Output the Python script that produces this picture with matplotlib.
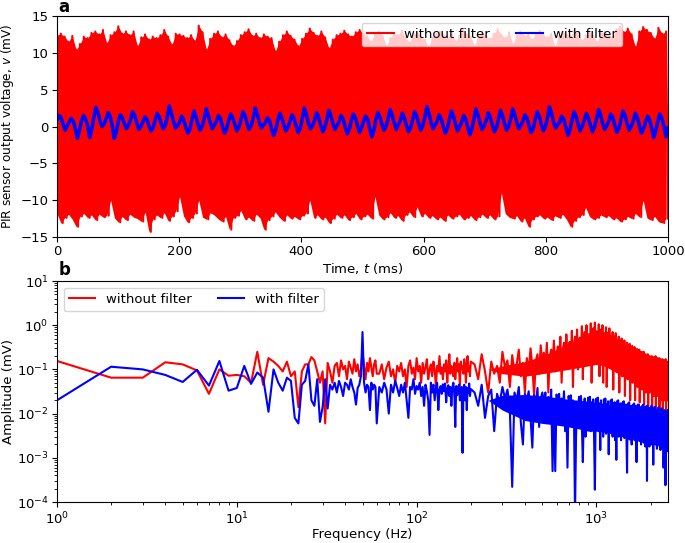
import numpy as np
import matplotlib
matplotlib.use("Agg")
import matplotlib.pyplot as plt

plt.rcParams['path.simplify'] = False
plt.rcParams['font.size'] = 9.5
plt.rcParams['xtick.major.pad'] = 2.5
plt.rcParams['ytick.major.pad'] = 2.5

# ---------------------------------------------------------------
# (a) time signal, 0 - 1000 ms
# red trace: peak values of the fast oscillation (upper / lower edge)
# ---------------------------------------------------------------
red_top = [
    12.4, 12.6, 12.2, 11.5, 12.3, 10.4, 11.2, 12.2, 12.0, 12.7, 12.9, 12.5, 13.1, 11.3, 12.4, 12.8,
    13.6, 12.6, 12.9, 12.4, 12.9, 10.9, 12.1, 12.5, 11.8, 12.2, 12.0, 12.4, 13.1, 12.2, 11.1, 12.6,
    12.5, 12.3, 12.0, 12.4, 11.6, 13.7, 12.8, 10.4, 11.9, 12.6, 12.9, 12.1, 12.5, 11.7, 10.9, 11.6,
    12.4, 12.8, 13.2, 12.3, 12.6, 12.0, 12.5, 12.2, 12.0, 10.2, 11.5, 12.4, 12.9, 12.3, 11.8, 10.9,
    11.9, 12.6, 13.3, 12.7, 12.3, 12.9, 12.1, 10.6, 11.8, 12.4, 12.6, 13.0, 12.5, 12.2, 12.8, 13.1,
    12.6, 12.2, 11.5, 12.7, 12.9, 12.3, 10.9, 12.0, 12.6, 12.4, 13.0, 12.1, 11.4, 12.5, 12.8, 12.2,
    11.8, 10.8, 12.1, 12.6, 12.9, 12.4, 12.0, 12.7, 11.6, 12.3, 13.1, 12.5, 12.2, 10.9, 12.4, 12.8,
    12.3, 11.9, 12.6, 13.2, 12.5, 12.0, 12.8, 11.2, 12.4, 12.9, 12.3, 12.6, 11.8, 12.7, 13.0, 12.4,
    12.1, 12.6, 10.8, 12.3, 12.9, 12.5, 12.2, 13.0, 12.6, 11.7, 12.4, 12.8, 12.3, 11.5, 12.7, 12.9,
    12.4, 12.0, 13.2, 13.6, 12.8, 13.3, 12.5, 10.8, 12.9, 13.5, 13.1, 12.7, 11.9, 13.4, 12.6, 12.9,
]
red_bottom = [
    -11.8, -13.1, -12.4, -11.9, -12.6, -13.6, -12.2, -11.8, -12.4, -12.0, -12.7, -11.9, -12.3, -12.1, -10.0, -12.4,
    -13.0, -12.2, -12.7, -11.9, -12.3, -12.5, -12.9, -11.6, -14.3, -12.6, -12.0, -12.4, -11.7, -12.8, -12.2, -11.5,
    -9.5, -12.1, -13.0, -12.4, -11.8, -10.0, -12.3, -12.6, -11.7, -12.0, -12.5, -12.9, -12.2, -14.0, -12.4, -12.1,
    -11.4, -12.6, -12.3, -12.8, -11.9, -12.4, -14.0, -12.7, -12.2, -11.6, -12.3, -12.8, -12.0, -12.5, -12.2, -12.6,
    -12.1, -11.8, -10.0, -12.4, -12.0, -12.6, -12.3, -13.1, -12.5, -11.9, -12.4, -12.0, -12.7, -12.3, -11.8, -12.6,
    -12.2, -11.9, -12.5, -9.5, -12.0, -12.6, -12.3, -11.7, -12.4, -12.1, -12.8, -12.0, -11.6, -12.3, -10.9, -12.2,
    -11.8, -12.4, -12.1, -12.6, -12.3, -12.8, -12.0, -12.5, -12.2, -11.9, -12.6, -12.4, -12.1, -12.7, -12.3, -11.9,
    -12.4, -12.0, -12.6, -12.2, -9.0, -11.8, -12.3, -12.5, -12.1, -12.9, -12.4, -13.6, -12.6, -12.2, -12.0, -12.5,
    -12.3, -12.7, -12.1, -12.4, -11.9, -12.6, -13.6, -12.8, -12.3, -12.0, -11.0, -12.2, -12.6, -12.4, -12.0, -12.3,
    -12.1, -12.6, -12.4, -12.9, -12.6, -12.2, -12.5, -11.8, -12.3, -10.0, -12.4, -12.7, -12.2, -12.9, -13.1, -12.5,
]

# blue trace: filtered signal, 6 samples per 20 ms (50 Hz ripple)
blue_v = [
    0.9, 1.5, 1.2, 0.3, -0.5, 0.1,   0.6, 1.1, 0.7, -0.3, -1.6, -0.5,
    0.8, 1.5, 1.0, 0.1, -1.5, -0.4,  1.2, 2.6, 1.9, 0.8, 0.0, 0.3,
    1.0, 1.9, 1.4, 0.2, -1.6, -0.8,  0.7, 1.6, 1.2, 0.4, -0.3, 0.2,
    0.9, 2.0, 1.5, 0.5, -0.4, 0.0,   0.6, 1.3, 1.0, 0.1, -0.6, -0.2,
    0.8, 1.8, 1.3, 0.4, -0.3, 0.2,   1.3, 2.8, 1.8, 0.7, -0.2, 0.1,
    0.6, 1.4, 0.9, -0.1, -0.9, -0.4, 0.9, 2.1, 1.4, 0.3, -0.5, 0.0,
    1.0, 2.4, 1.6, 0.5, -0.3, 0.2,   0.7, 1.5, 1.1, 0.0, -0.9, -0.3,
    0.8, 1.7, 1.2, 0.3, -0.6, -0.1,  0.9, 2.0, 1.5, 0.4, -0.4, 0.1,
    1.1, 2.5, 1.7, 0.6, -0.2, 0.2,   0.5, 1.2, 0.8, -0.3, -1.2, -0.5,
    0.8, 1.8, 1.2, 0.2, -0.6, -0.1,  0.7, 1.6, 1.1, 0.1, -0.8, -0.3,
    1.0, 2.5, 1.7, 0.5, -0.3, 0.1,   0.8, 1.9, 1.3, 0.2, -0.7, -0.2,
    0.9, 2.2, 1.5, 0.4, -0.4, 0.1,   0.6, 1.5, 1.0, 0.0, -1.0, -0.4,
    0.8, 1.7, 1.2, 0.2, -0.8, -0.2,  0.7, 1.4, 1.0, -0.2, -1.4, -0.6,
    0.9, 1.9, 1.3, 0.3, -0.5, 0.0,   1.0, 2.3, 1.6, 0.5, -0.4, 0.2,
    0.8, 1.8, 1.2, 0.1, -0.7, -0.2,  0.9, 2.0, 1.4, 0.4, -0.5, 0.1,
    1.2, 2.7, 1.8, 0.6, -0.3, 0.2,   0.7, 1.6, 1.1, 0.0, -0.9, -0.3,
    0.9, 2.1, 1.4, 0.3, -0.6, 0.0,   0.6, 1.5, 1.0, -0.1, -1.1, -0.4,
    1.0, 2.4, 1.6, 0.5, -0.4, 0.1,   0.8, 1.9, 1.3, 0.2, -0.7, -0.2,
    0.9, 2.2, 1.5, 0.4, -0.5, 0.0,   1.0, 2.4, 1.6, 0.5, -0.3, 0.2,
    0.7, 1.6, 1.1, 0.1, -0.8, -0.3,  0.9, 2.0, 1.4, 0.3, -0.6, 0.0,
    1.2, 2.7, 1.8, 0.6, -0.2, 0.2,   0.6, 1.4, 1.0, -0.1, -1.2, -0.5,
    0.9, 2.0, 1.4, 0.3, -0.6, 0.0,   0.8, 1.8, 1.2, 0.2, -0.7, -0.1,
    1.0, 2.3, 1.6, 0.4, -0.4, 0.1,   0.7, 1.7, 1.2, 0.1, -0.8, -0.2,
    0.9, 2.1, 1.5, 0.4, -0.5, 0.0,   0.8, 1.8, 1.2, 0.1, -0.9, -0.3,
    0.6, 1.4, 0.9, -0.2, -1.5, -0.6, 0.7, 1.7, 1.1, 0.0, -1.4, -0.2,
]

# ---------------------------------------------------------------
# (b) amplitude spectra (mV)
# 1..60 Hz every 1 Hz, 62..200 Hz every 2 Hz, 210..2500 Hz every 10 Hz
# ---------------------------------------------------------------
freq = np.concatenate([np.arange(1, 61), np.arange(62, 201, 2), np.arange(210, 2501, 10)])

amp_red = [
    # 1 - 60 Hz
    0.155, 0.065, 0.065, 0.145, 0.13, 0.095, 0.028, 0.10, 0.072, 0.075,
    0.07, 0.05, 0.25, 0.045, 0.18, 0.15, 0.12, 0.09, 0.15, 0.07,
    0.09, 0.014, 0.09, 0.13, 0.13, 0.19, 0.16, 0.09, 0.05, 0.09,
    0.006, 0.14, 0.09, 0.05, 0.12, 0.14, 0.07, 0.16, 0.10, 0.12,
    0.06, 0.15, 0.11, 0.08, 0.17, 0.09, 0.13, 0.07, 0.10, 0.25,
    0.12, 0.06, 0.14, 0.09, 0.18, 0.11, 0.07, 0.13, 0.16, 0.08,
    # 62 - 200 Hz
    0.08, 0.13, 0.06, 0.11, 0.15, 0.07, 0.10, 0.05, 0.12, 0.09,
    0.14, 0.07, 0.10, 0.04, 0.12, 0.16, 0.08, 0.11, 0.06, 0.18,
    0.09, 0.12, 0.05, 0.14, 0.08, 0.11, 0.17, 0.06, 0.10, 0.13,
    0.07, 0.15, 0.10, 0.04, 0.12, 0.09, 0.20, 0.08, 0.11, 0.06,
    0.13, 0.09, 0.16, 0.05, 0.11, 0.22, 0.08, 0.12, 0.10, 0.07,
    0.14, 0.06, 0.11, 0.18, 0.09, 0.13, 0.04, 0.15, 0.10, 0.12,
    0.08, 0.17, 0.11, 0.05, 0.13, 0.20, 0.09, 0.12, 0.07, 0.15,
    # 210 - 2500 Hz
    0.13, 0.06, 0.22, 0.09, 0.03, 0.15, 0.08, 0.12, 0.05, 0.25,
    0.11, 0.16, 0.04, 0.21, 0.09, 0.13, 0.28, 0.07, 0.14, 0.03,
    0.18, 0.09, 0.30, 0.12, 0.025, 0.16, 0.22, 0.08, 0.35, 0.13,
    0.24, 0.11, 0.40, 0.03, 0.19, 0.28, 0.14, 0.45, 0.09, 0.22,
    0.33, 0.15, 0.55, 0.05, 0.28, 0.40, 0.12, 0.62, 0.21, 0.35,
    0.42, 0.18, 0.75, 0.04, 0.36, 0.55, 0.22, 0.80, 0.10, 0.48,
    0.52, 0.24, 0.95, 0.06, 0.45, 0.70, 0.30, 1.00, 0.15, 0.62,
    0.60, 0.28, 1.10, 0.05, 0.50, 0.85, 0.35, 1.15, 0.20, 0.72,
    0.58, 0.25, 1.05, 0.07, 0.48, 0.80, 0.32, 1.00, 0.05, 0.66,
    0.50, 0.20, 0.90, 0.04, 0.40, 0.68, 0.26, 0.85, 0.12, 0.55,
    0.42, 0.16, 0.70, 0.035, 0.34, 0.55, 0.20, 0.66, 0.09, 0.45,
    0.30, 0.12, 0.55, 0.03, 0.26, 0.42, 0.15, 0.50, 0.07, 0.34,
    0.25, 0.10, 0.45, 0.025, 0.21, 0.34, 0.12, 0.40, 0.06, 0.28,
    0.21, 0.08, 0.38, 0.02, 0.17, 0.28, 0.10, 0.34, 0.05, 0.23,
    0.18, 0.07, 0.32, 0.02, 0.15, 0.24, 0.09, 0.29, 0.04, 0.20,
    0.15, 0.06, 0.28, 0.018, 0.13, 0.21, 0.08, 0.25, 0.035, 0.17,
    0.14, 0.05, 0.25, 0.016, 0.12, 0.19, 0.07, 0.22, 0.03, 0.15,
    0.12, 0.045, 0.22, 0.015, 0.11, 0.17, 0.06, 0.20, 0.03, 0.14,
    0.11, 0.04, 0.20, 0.014, 0.10, 0.16, 0.055, 0.19, 0.025, 0.13,
    0.10, 0.04, 0.20, 0.013, 0.09, 0.15, 0.05, 0.18, 0.025, 0.12,
    0.10, 0.035, 0.18, 0.013, 0.09, 0.14, 0.05, 0.17, 0.02, 0.11,
    0.09, 0.035, 0.17, 0.012, 0.08, 0.13, 0.045, 0.16, 0.02, 0.11,
    0.09, 0.03, 0.17, 0.012, 0.08, 0.13, 0.045, 0.15, 0.02, 0.10,
]

amp_blue = [
    # 1 - 60 Hz
    0.020, 0.115, 0.10, 0.075, 0.052, 0.098, 0.043, 0.155, 0.033, 0.038,
    0.12, 0.047, 0.085, 0.065, 0.011, 0.10, 0.05, 0.033, 0.065, 0.055,
    0.008, 0.006, 0.045, 0.055, 0.13, 0.02, 0.015, 0.06, 0.0065, 0.014,
    0.06, 0.013, 0.045, 0.035, 0.05, 0.03, 0.055, 0.04, 0.025, 0.05,
    0.045, 0.035, 0.06, 0.04, 0.03, 0.016, 0.038, 0.045, 0.07, 0.7,
    0.05, 0.03, 0.045, 0.04, 0.012, 0.05, 0.035, 0.045, 0.04, 0.006,
    # 62 - 200 Hz
    0.04, 0.03, 0.05, 0.035, 0.01, 0.045, 0.03, 0.055, 0.038, 0.025,
    0.045, 0.03, 0.05, 0.02, 0.008, 0.04, 0.035, 0.06, 0.028, 0.042,
    0.035, 0.05, 0.025, 0.04, 0.015, 0.045, 0.032, 0.02, 0.0033, 0.05,
    0.03, 0.045, 0.02, 0.038, 0.05, 0.012, 0.035, 0.042, 0.028, 0.046,
    0.032, 0.048, 0.018, 0.036, 0.044, 0.025, 0.04, 0.015, 0.038, 0.05,
    0.03, 0.005, 0.042, 0.026, 0.036, 0.045, 0.02, 0.034, 0.04, 0.0013,
    0.035, 0.045, 0.02, 0.04, 0.012, 0.038, 0.03, 0.048, 0.025, 0.036,
    # 210 - 2500 Hz
    0.03, 0.015, 0.045, 0.008, 0.025, 0.035, 0.004, 0.028, 0.018, 0.04,
    0.022, 0.035, 0.012, 0.00022, 0.03, 0.02, 0.04, 0.006, 0.002, 0.028,
    0.02, 0.032, 0.008, 0.0017, 0.026, 0.015, 0.038, 0.005, 0.022, 0.03,
    0.018, 0.03, 0.007, 0.024, 0.012, 0.035, 0.0005, 0.02, 0.0005, 0.027,
    0.016, 0.028, 0.006, 0.022, 0.01, 0.032, 0.004, 0.019, 0.0006, 0.025,
    0.015, 0.026, 0.005, 0.02, 0.009, 0.00005, 0.003, 0.018, 0.012, 0.024,
    0.014, 0.025, 0.005, 0.0008, 0.009, 0.022, 0.003, 0.017, 0.011, 0.023,
    0.013, 0.024, 0.004, 0.018, 0.008, 0.021, 0.003, 0.00019, 0.01, 0.022,
    0.012, 0.023, 0.004, 0.017, 0.0015, 0.02, 0.007, 0.015, 0.003, 0.021,
    0.011, 0.022, 0.0035, 0.016, 0.007, 0.019, 0.0012, 0.014, 0.009, 0.02,
    0.011, 0.021, 0.003, 0.015, 0.006, 0.018, 0.0025, 0.013, 0.0009, 0.019,
    0.01, 0.02, 0.003, 0.014, 0.006, 0.017, 0.0025, 0.012, 0.008, 0.018,
    0.01, 0.019, 0.0028, 0.013, 0.0055, 0.016, 0.0022, 0.00046, 0.011, 0.017,
    0.009, 0.018, 0.0026, 0.012, 0.005, 0.015, 0.002, 0.011, 0.007, 0.016,
    0.009, 0.017, 0.0025, 0.012, 0.005, 0.015, 0.0008, 0.01, 0.007, 0.016,
    0.0085, 0.016, 0.0024, 0.011, 0.0045, 0.014, 0.002, 0.01, 0.0065, 0.015,
    0.008, 0.016, 0.0022, 0.011, 0.0045, 0.014, 0.0018, 0.0095, 0.006, 0.015,
    0.0003, 0.015, 0.0022, 0.01, 0.0042, 0.013, 0.0018, 0.009, 0.006, 0.014,
    0.0075, 0.015, 0.002, 0.01, 0.004, 0.013, 0.0007, 0.009, 0.0055, 0.014,
    0.0072, 0.014, 0.002, 0.0095, 0.004, 0.012, 0.0016, 0.0085, 0.0055, 0.013,
    0.007, 0.014, 0.0019, 0.009, 0.0038, 0.012, 0.0015, 0.0085, 0.005, 0.013,
    0.0068, 0.013, 0.0018, 0.009, 0.0036, 0.0006, 0.0015, 0.008, 0.005, 0.012,
    0.0065, 0.00024, 0.0018, 0.0085, 0.0035, 0.011, 0.0014, 0.008, 0.0048, 0.012,
]

# solid core of the dense high-frequency part of both spectra (mV)
core_freq = [250, 300, 400, 500, 600, 700, 800, 900, 1000, 1100, 1200, 1400, 1600, 1800, 2000, 2200, 2500]
red_core_hi = [0.10, 0.12, 0.15, 0.20, 0.28, 0.38, 0.52, 0.66, 0.78, 0.72, 0.58, 0.40, 0.27, 0.20, 0.16, 0.13, 0.12]
red_core_lo = [0.10, 0.08, 0.07, 0.08, 0.09, 0.10, 0.11, 0.12, 0.13, 0.12, 0.10, 0.07, 0.05, 0.04, 0.035, 0.03, 0.03]
blue_core_hi = [0.02, 0.026, 0.027, 0.025, 0.023, 0.021, 0.020, 0.019, 0.018, 0.017, 0.016, 0.015, 0.014, 0.013, 0.013, 0.012, 0.012]
blue_core_lo = [0.02, 0.012, 0.007, 0.006, 0.0055, 0.005, 0.0045, 0.004, 0.004, 0.0038, 0.0035, 0.003, 0.0028, 0.0026, 0.0024, 0.0022, 0.002]

LABELS = ['without filter', 'with filter']

fig = plt.figure(figsize=(6.85, 5.43), dpi=100)
ax1 = fig.add_axes([0.0832, 0.5635, 0.892, 0.407])
ax2 = fig.add_axes([0.0832, 0.0755, 0.892, 0.407])

# --- panel a: time domain ---
# interleave upper and lower peaks -> fast oscillation
red_v = np.empty(2 * len(red_top))
red_v[0::2] = red_top
red_v[1::2] = red_bottom
t_red = np.linspace(0, 1000, len(red_v))
t_blue = np.linspace(0, 1000, len(blue_v))

# the real trace is far denser than the line spacing, so fill between the peaks
ax1.fill_between(t_red[0::2], red_top, red_bottom, color='r', linewidth=0)
ax1.plot(t_red, red_v, color='r', linewidth=1.5, label=LABELS[0])
ax1.plot(t_blue, blue_v, color='b', linewidth=2.6, label=LABELS[1])
ax1.set_xlim(0, 1000)
ax1.set_ylim(-15, 15)
ax1.set_yticks([-15, -10, -5, 0, 5, 10, 15])
ax1.set_xlabel('Time, $t$ (ms)', labelpad=2)
ax1.set_ylabel('PIR sensor output voltage, $v$ (mV)', fontsize=8.7, labelpad=3)
leg1 = ax1.legend(loc='upper right', bbox_to_anchor=(0.936, 1.0), ncol=2)
for line in leg1.get_lines():
    line.set_linewidth(1.5)

# --- panel b: spectra ---
ax2.fill_between(core_freq, red_core_lo, red_core_hi, color='r', linewidth=0, zorder=1.9)
ax2.loglog(freq, amp_red, color='r', linewidth=1.5, label=LABELS[0], zorder=2)
ax2.fill_between(core_freq, blue_core_lo, blue_core_hi, color='b', linewidth=0, zorder=2.05)
ax2.loglog(freq, amp_blue, color='b', linewidth=1.5, label=LABELS[1], zorder=2.1)
ax2.set_xlim(1, 2500)
ax2.set_ylim(1e-4, 1e1)
ax2.set_xlabel('Frequency (Hz)', labelpad=1)
ax2.set_ylabel('Amplitude (mV)', labelpad=1)
ax2.legend(loc='upper left', ncol=2)

fig.text(0.085, 0.977, 'a', fontsize=12, fontweight='bold', va='baseline')
fig.text(0.085, 0.4936, 'b', fontsize=12, fontweight='bold', va='baseline')

fig.savefig('out.png', dpi=100)
